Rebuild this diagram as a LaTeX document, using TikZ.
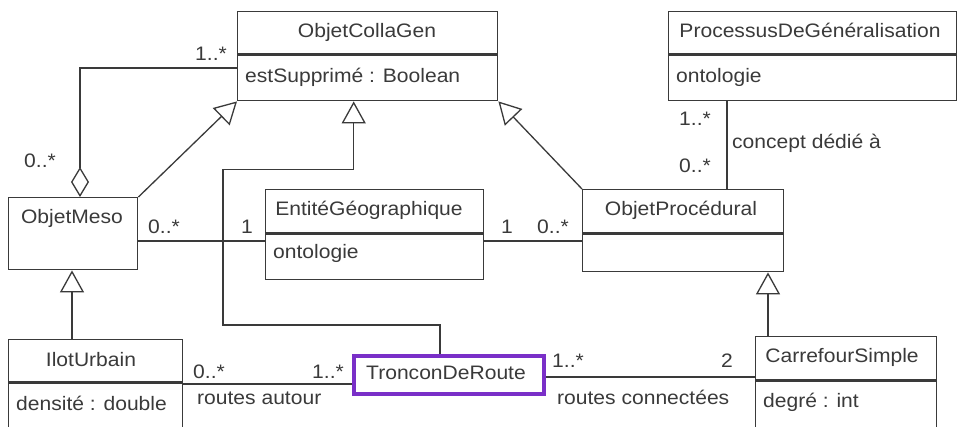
\documentclass[tikz,border=0pt]{standalone}
\usepackage{fontspec}
\setmainfont[FakeStretch=1.08]{Liberation Sans}
\usetikzlibrary{arrows.meta,calc}
\definecolor{ink}{HTML}{3A3A3A}
\definecolor{purp}{HTML}{7A2FC8}
\begin{document}
\begin{tikzpicture}[x=1pt,y=-1pt,
  font=\fontsize{19.5}{23}\selectfont, text=ink,
  cls/.style={draw=ink, line width=1.4pt, fill=white, rectangle, anchor=north west, inner sep=0pt},
  sepl/.style={draw=ink, line width=3pt},
  assoc/.style={draw=ink, line width=1.3pt},
  gen/.style={assoc, -{Triangle[open, fill=white, length=22pt, width=24pt]}},
  lbl/.style={anchor=base, inner sep=0pt},
  lblw/.style={anchor=base west, inner sep=0pt},
  lble/.style={anchor=base east, inner sep=0pt}]
\clip (0,0) rectangle (958,426);
\fill[white] (0,0) rectangle (958,426);
% classes
\node[cls, minimum width=260pt, minimum height=89pt] (ocg) at (237,11) {};
\node[cls, minimum width=288pt, minimum height=89pt] (pdg) at (668,11) {};
\node[cls, minimum width=129pt, minimum height=72pt] (meso) at (8,197) {};
\node[cls, minimum width=218pt, minimum height=90pt] (ent) at (265,189) {};
\node[cls, minimum width=201pt, minimum height=82pt] (proc) at (582,189) {};
\node[cls, minimum width=174pt, minimum height=100pt] (ilot) at (8,339) {};
\node[cls, minimum width=181pt, minimum height=104pt] (carr) at (755,336) {};
\node[cls, draw=purp, line width=4pt, minimum width=190pt, minimum height=38pt] (tron) at (352,354) {};
% separators
\draw[sepl] (ocg.west |- 0,54) -- (ocg.east |- 0,54);
\draw[sepl] (pdg.west |- 0,54) -- (pdg.east |- 0,54);
\draw[sepl] (ent.west |- 0,233) -- (ent.east |- 0,233);
\draw[sepl] (proc.west |- 0,233) -- (proc.east |- 0,233);
\draw[sepl] (ilot.west |- 0,382) -- (ilot.east |- 0,382);
\draw[sepl] (carr.west |- 0,380) -- (carr.east |- 0,380);
% texts
\node[lbl] (t1) at (367,37) {ObjetCollaGen};
\node[lblw] (t2) at (245,82) {estSupprimé : Boolean};
\node[lbl] (t3) at (810,37) {ProcessusDeGénéralisation};
\node[lblw] (t4) at (676,82) {ontologie};
\node[lbl] (t5) at (72,223) {ObjetMeso};
\node[lbl] (t6) at (369,215) {EntitéGéographique};
\node[lblw] (t7) at (273,258) {ontologie};
\node[lbl] (t8) at (681,215) {ObjetProcédural};
\node[lbl] (t9) at (91,366) {IlotUrbain};
\node[lblw] (t10) at (16,410) {densité : double};
\node[lbl] (t11) at (842,362) {CarrefourSimple};
\node[lblw] (t12) at (763,407) {degré : int};
\node[lbl] (t13) at (446,379) {TronconDeRoute};
% connectors
\draw[assoc, {Diamond[open, fill=white, length=30pt, width=18pt]}-]
  ($(meso.north west)+(72,0)$) |- ($(ocg.north west)+(0,57)$);
\draw[gen] (meso.north east) -- (ocg.south west);
\draw[gen] (proc.north west) -- (ocg.south east);
\draw[gen] ($(tron.north)+(-9,0)$) |- (223,325) |- ($(ocg.south)+(-14,68)$) -- ($(ocg.south)+(-14,0)$);
\draw[assoc] (meso.east |- 0,241) -- (ent.west |- 0,241);
\draw[assoc] (ent.east |- 0,241) -- (proc.west |- 0,241);
\draw[assoc] ($(pdg.south west)+(59,0)$) -- ($(proc.north west)+(145,0)$);
\draw[gen] ($(ilot.north west)+(64,0)$) -- ($(meso.south west)+(64,0)$);
\draw[gen] ($(carr.north west)+(13,0)$) -- ($(proc.south west)+(186,0)$);
\draw[assoc] (ilot.east |- 0,384) -- (tron.west |- 0,384);
\draw[assoc] (tron.east |- 0,377) -- (carr.west |- 0,377);
% multiplicities and roles
\node[lble] (m1) at (227,60) {1..*};
\node[lble] (m2) at (56,167) {0..*};
\node[lblw] (m3) at (148,233) {0..*};
\node[lbl] (m4) at (247,233) {1};
\node[lbl] (m5) at (507,233) {1};
\node[lblw] (m6) at (537,233) {0..*};
\node[lble] (m7) at (711,125) {1..*};
\node[lble] (m8) at (711,172) {0..*};
\node[lblw] (m9) at (732,148) {concept dédié à};
\node[lblw] (m10) at (193,378) {0..*};
\node[lble] (m11) at (344,378) {1..*};
\node[lblw] (m12) at (197,404) {routes autour};
\node[lblw] (m13) at (552,367) {1..*};
\node[lble] (m14) at (733,367) {2};
\node[lblw] (m15) at (557,404) {routes connectées};
\end{tikzpicture}
\end{document}
